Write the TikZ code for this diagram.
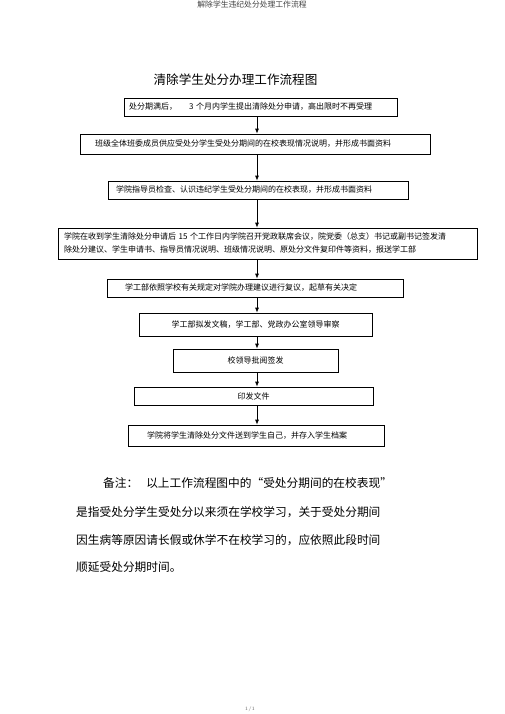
\documentclass[tikz,border=0pt]{standalone}
\usepackage{fontspec}
\newfontfamily\cjk{Noto Sans CJK SC}
\usetikzlibrary{arrows.meta}
\begin{document}
\begin{tikzpicture}[x=1pt,y=-1pt,
  box/.style={draw, line width=0.7pt, inner sep=0pt, align=left, font=\cjk\fontsize{8}{13}\selectfont},
  cbox/.style={draw, line width=0.7pt, inner sep=0pt, align=center, font=\cjk\fontsize{8}{13}\selectfont},
  arr/.style={-{Latex[length=5pt,width=4pt]}, line width=0.8pt},
  note/.style={anchor=west, inner sep=0pt, font=\cjk\fontsize{11.7}{14}\selectfont}]
\useasboundingbox (0,0) rectangle (505,714);
\coordinate (ax) at (257,0);
\node[font=\cjk\fontsize{7.8}{9}\selectfont, text=black!75] (hdr) at (252,5) {解除学生违纪处分处理工作流程};
\node[font=\cjk\fontsize{12.6}{14}\selectfont] (title) at (235.5,80) {清除学生处分办理工作流程图};

\node[box, minimum width=273pt, minimum height=18pt, text width=263pt] (b1) at (260.5,107)
  {处分期满后，\hspace{12pt}3 个月内学生提出清除处分申请，高出限时不再受理};
\node[box, minimum width=350pt, minimum height=20pt, text width=320pt] (b2) at (255,144)
  {班级全体班委成员供应受处分学生受处分期间的在校表现情况说明，并形成书面资料};
\node[box, minimum width=300pt, minimum height=18pt, text width=284pt] (b3) at (258,190)
  {学院指导员检查、认识违纪学生受处分期间的在校表现，并形成书面资料};
\node[box, minimum width=419pt, minimum height=31pt, text width=407pt] (b4) at (267.5,243.5)
  {学院在收到学生清除处分申请后 15 个工作日内学院召开党政联席会议，院党委（总支）书记或副书记签发清\\除处分建议、学生申请书、指导员情况说明、班级情况说明、原处分文件复印件等资料，报送学工部};
\node[box, minimum width=296pt, minimum height=18pt, text width=260pt] (b5) at (255,288)
  {学工部依照学校有关规定对学院办理建议进行复议，起草有关决定};
\node[cbox, minimum width=233pt, minimum height=23pt] (b6) at (255.5,324.5)
  {学工部拟发文稿，学工部、党政办公室领导审察};
\node[cbox, minimum width=165pt, minimum height=23pt] (b7) at (255.5,360.5)
  {校领导批阅签发};
\node[cbox, minimum width=239pt, minimum height=18pt] (b8) at (253.5,396)
  {印发文件};
\node[box, minimum width=256pt, minimum height=21pt, text width=218pt] (b9) at (256,435.5)
  {学院将学生清除处分文件送到学生自己，并存入学生档案};

\foreach \a/\b in {b1/b2,b2/b3,b3/b4,b4/b5,b5/b6,b6/b7,b7/b8,b8/b9}
  \draw[arr] (\a.south -| ax) -- (\b.north -| ax);

\node[note] (n1) at (103,483) {备注：\hspace{8pt}以上工作流程图中的“受处分期间的在校表现”};
\node[note] (n2) at (76,512) {是指受处分学生受处分以来须在学校学习，关于受处分期间};
\node[note] (n3) at (76,540) {因生病等原因请长假或休学不在校学习的，应依照此段时间};
\node[note] (n4) at (76,567) {顺延受处分期时间。};
\node[font=\fontsize{5}{6}\selectfont, text=black!60] (pg) at (250,709) {1/1};
\end{tikzpicture}
\end{document}
